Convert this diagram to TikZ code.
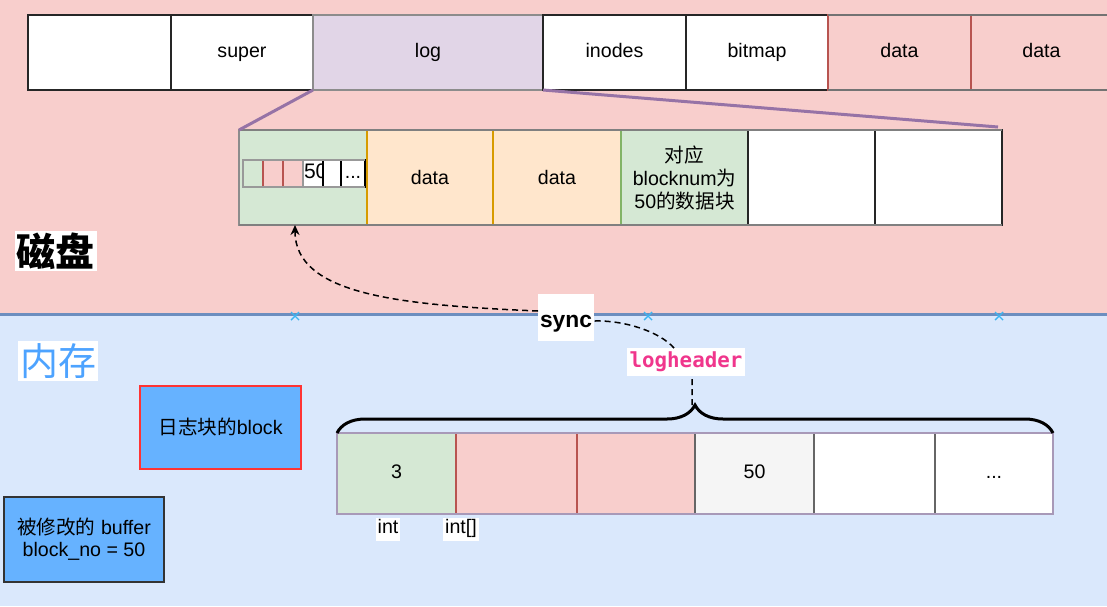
\documentclass[tikz,border=0pt]{standalone}
\usepackage{fontspec}
\setmainfont{Liberation Sans}
\newfontfamily\cjk{Noto Sans CJK SC}
\newfontfamily\codefont{DejaVu Sans Mono}
\usetikzlibrary{positioning,arrows.meta,decorations.pathreplacing}

\definecolor{diskbg}{HTML}{F8CECC}
\definecolor{diskline}{HTML}{B85450}
\definecolor{membg}{HTML}{DAE8FC}
\definecolor{memline}{HTML}{6C8EBF}
\definecolor{logfill}{HTML}{E1D5E7}
\definecolor{logline}{HTML}{9673A6}
\definecolor{okfill}{HTML}{D5E8D4}
\definecolor{okline}{HTML}{82B366}
\definecolor{datafill}{HTML}{FFE6CC}
\definecolor{dataline}{HTML}{D79B00}
\definecolor{numfill}{HTML}{F5F5F5}
\definecolor{bufblue}{HTML}{66B2FF}
\definecolor{memtext}{HTML}{4DA3FF}
\definecolor{codepink}{HTML}{F0368C}
\definecolor{guideblue}{HTML}{3FB4F0}
\definecolor{hdrline}{HTML}{A899B8}

\begin{document}
\begin{tikzpicture}[x=0.5pt, y=-0.5pt,
    every node/.style={font=\fontsize{9.8}{11.5}\selectfont, inner sep=0pt, outer sep=0pt, align=center},
    topcell/.style={draw=black!85, line width=0.9pt, fill=white, minimum height=37.5pt, text height=7pt, text depth=2pt},
    blkcell/.style={draw=black!85, line width=0.8pt, fill=white, minimum height=47.5pt},
    tinycell/.style={draw=black!40, line width=0.6pt, fill=white, minimum height=13.5pt, text height=7pt, text depth=2pt},
    hdrcell/.style={draw=black!60, line width=0.6pt, fill=white, minimum height=40.5pt, text height=7pt, text depth=2pt},
    bufbox/.style={fill=bufblue, line width=0.9pt},
    zoomline/.style={draw=logline, line width=1.5pt},
    syncarrow/.style={dashed, dash pattern=on 3pt off 2pt, line width=0.75pt, -{Stealth[length=5pt,width=4.5pt]}},
    tag/.style={fill=white, inner sep=1pt},
    guide/.style={draw=guideblue, line width=0.7pt}
]
\useasboundingbox (0,0) rectangle (1107,606);

% disk / memory areas
\fill[diskbg] (0,0) rectangle (1107,314);
\fill[membg] (0,314) rectangle (1107,606);
\draw[memline, line width=1.5pt] (0,314) -- (1107,314);

% disk layout
\node[topcell, minimum width=71.5pt] (boot) at (99.5,52.5) {};
\node[topcell, minimum width=71pt, right=0pt of boot] (super) {super};
\node[topcell, minimum width=115pt, right=0pt of super, fill=logfill, draw=black!45] (log) {log};
\node[topcell, minimum width=71.5pt, right=0pt of log] (inodes) {inodes};
\node[topcell, minimum width=71pt, right=0pt of inodes] (bitmap) {bitmap};
\node[topcell, minimum width=71.5pt, right=0pt of bitmap, fill=diskbg, draw=diskline] (data1) {data};
\node[topcell, minimum width=70.5pt, right=0pt of data1, fill=diskbg, draw=diskline] (data2) {data};
\draw[black!55, line width=0.8pt] (data1.north west) -- (data2.north east) (data1.south west) -- (data2.south east);

% log area
\node[blkcell, minimum width=64pt, fill=okfill, draw=black!45] (lg0) at (303,177.5) {};
\node[blkcell, minimum width=63pt, right=0pt of lg0, fill=datafill, draw=dataline] (lg1) {data};
\node[blkcell, minimum width=64pt, right=0pt of lg1, fill=datafill, draw=dataline] (lg2) {data};
\node[blkcell, minimum width=63.5pt, right=0pt of lg2, fill=okfill, draw=okline] (lg3) {{\cjk 对应}\\blocknum{\cjk 为}\\50{\cjk 的数据块}};
\node[blkcell, minimum width=63.5pt, right=0pt of lg3] (lg4) {};
\node[blkcell, minimum width=63.5pt, right=0pt of lg4] (lg5) {};
\draw[black!50, line width=0.8pt] (lg0.north west) -- (lg5.north east) (lg0.south west) -- (lg5.south east);

% header copy inside the first log block
\node[tinycell, minimum width=10pt, fill=okfill] (t0) at (253,173.5) {};
\node[tinycell, minimum width=10pt, right=0pt of t0, fill=diskbg, draw=diskline] (t1) {};
\node[tinycell, minimum width=10pt, right=0pt of t1, fill=diskbg, draw=diskline] (t2) {};
\node[tinycell, minimum width=10pt, right=0pt of t2] (t3) {};
\node[tinycell, minimum width=9pt, right=0pt of t3, draw=black] (t4) {};
\node[tinycell, minimum width=12pt, right=0pt of t4, draw=black] (t5) {...};
\draw[black!40, line width=0.6pt] (t0.north west) -- (t5.north east) (t0.south west) -- (t5.south east);
\begin{scope}
  \clip (t3.north west) rectangle (t3.south east);
  \node[anchor=west, text height=7pt, text depth=2pt, font=\fontsize{10.5}{12}\selectfont] (t3txt) at ([xshift=0.5pt]t3.west) {50};
\end{scope}

\draw[zoomline] (log.south west) -- (lg0.north west);
\draw[zoomline] (log.south east) -- ([shift={(-2pt,1.5pt)}]lg5.north east);

\node[tag, font=\cjk\bfseries\fontsize{19.5}{22}\selectfont] (disk) at (56,251) {磁盘};
\node[tag, font=\cjk\fontsize{19}{22}\selectfont, text=memtext] (mem) at (58,361) {内存};

% logheader in memory
\node[hdrcell, minimum width=59.5pt, fill=okfill] (h0) at (396.5,473.5) {3};
\node[hdrcell, minimum width=60.5pt, right=0pt of h0, fill=diskbg, draw=diskline] (h1) {};
\node[hdrcell, minimum width=59pt, right=0pt of h1, fill=diskbg, draw=diskline] (h2) {};
\node[hdrcell, minimum width=59.5pt, right=0pt of h2, fill=numfill] (h3) {50};
\node[hdrcell, minimum width=60.5pt, right=0pt of h3] (h4) {};
\node[hdrcell, minimum width=59pt, right=0pt of h4] (h5) {...};
\draw[hdrline, line width=0.8pt] (h0.north west) rectangle (h5.south east);
\node[tag, text height=7pt, text depth=2.5pt] (intlbl) at (388,529) {int};
\node[tag, text height=7pt, text depth=2.5pt] (arrlbl) at (461,529) {int[]};

\draw[decorate, decoration={brace, amplitude=14pt}, line width=1.5pt]
    (h0.north west) -- (h5.north east);
\coordinate (bt) at (692,405);

\node[tag, minimum width=26.5pt, minimum height=23.5pt, text height=12pt, text depth=1.8pt, font=\bfseries\fontsize{11.4}{13}\selectfont] (sync) at (566,317) {sync};
\node[tag, minimum width=59pt, minimum height=14pt, font=\codefont\bfseries\fontsize{10.4}{12}\selectfont, text=codepink] (logheader) at (686,362) {logheader};

\draw[syncarrow] (bt) -- ([xshift=3pt]logheader.south)
    ([xshift=-6pt]logheader.north) .. controls (660,332) and (625,320) .. ([yshift=-2pt]sync.east)
    ([yshift=3pt]sync.west) .. controls (400,305) and (295,295) .. ([xshift=-4pt]lg0.south);

% buffers
\node[bufbox, draw=red!80, minimum width=80.5pt, minimum height=41.5pt] (logbuf) at (220.5,427.5) {{\cjk 日志块的}block};
\node[bufbox, draw=black!80, minimum width=80pt, minimum height=42.5pt, font=\fontsize{9.8}{11}\selectfont] (databuf) at (84,539.5) {{\cjk 被修改的} buffer\\block\_no = 50};

% guide marks
\foreach \cx in {295,648,999}
  \draw[guide] (\cx-4,312) -- (\cx+4,320) (\cx-4,320) -- (\cx+4,312);
\end{tikzpicture}
\end{document}
